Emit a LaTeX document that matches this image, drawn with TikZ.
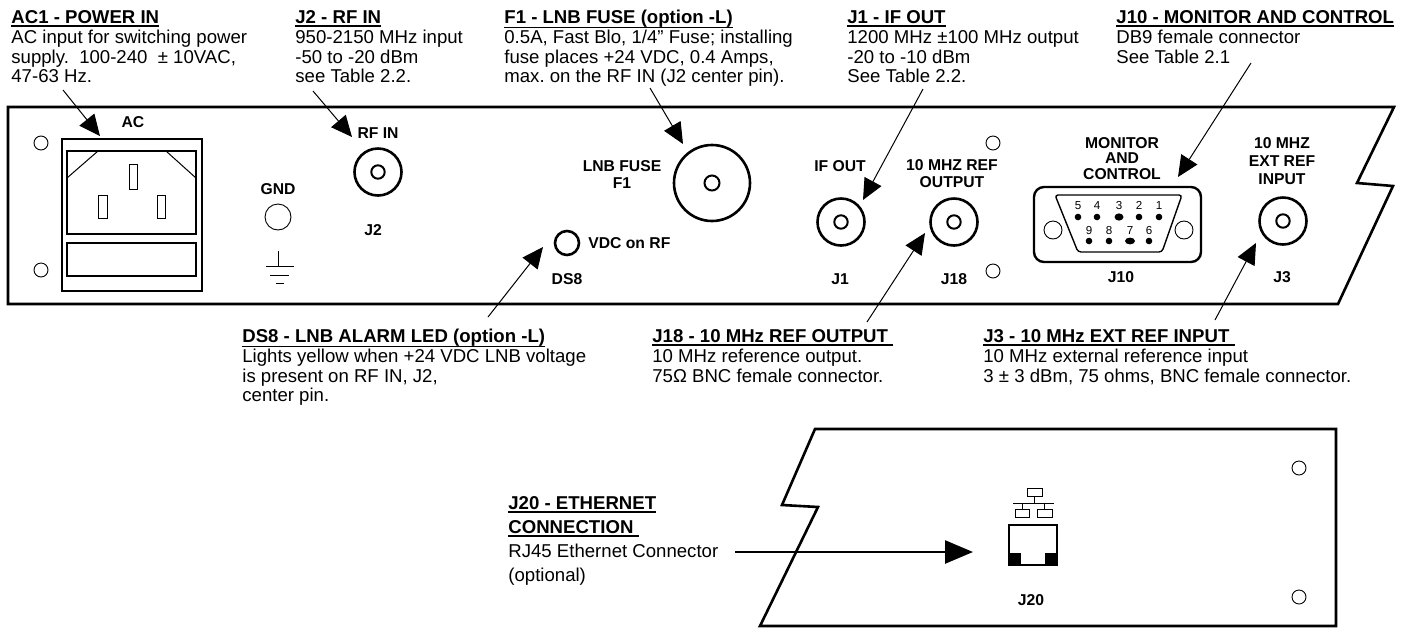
\documentclass[tikz,border=0pt]{standalone}
\usepackage{fontspec}
\setmainfont{Liberation Sans}
\usetikzlibrary{arrows.meta}
\frenchspacing
\newcommand{\txtsize}{\fontsize{9.3}{9.85}\selectfont}
\newcommand{\ethsize}{\fontsize{9.3}{12}\selectfont}
\newcommand{\lblsize}{\fontsize{7.85}{8.5}\selectfont}
\newcommand{\pinsize}{\fontsize{5.8}{6}\selectfont}
\newcommand{\titleul}[2][-1.5pt]{\sbox0{\bfseries #2}\rlap{\rule[#1]{\wd0}{0.65pt}}\usebox0}
\newcommand{\lblock}[1]{\begin{tabular}[t]{@{}l@{}}#1\end{tabular}}
\newcommand{\cblock}[1]{\begin{tabular}[t]{@{}c@{}}#1\end{tabular}}
\tikzset{
  desc/.style={anchor=base west, inner sep=0pt, font=\txtsize},
  lbl/.style={anchor=base, inner sep=0pt, font=\lblsize\bfseries},
  pinno/.style={anchor=base, inner sep=0pt, font=\pinsize},
  callout/.style={line width=0.5pt, -{Triangle[length=10.5pt,width=9.5pt]}},
  bigcallout/.style={line width=1.3pt, -{Triangle[length=14pt,width=11.5pt]}},
  panel/.style={line width=1.3pt, line join=miter},
  hole/.style={line width=0.45pt},
  jack/.style={line width=1.3pt},
  jackin/.style={line width=1pt},
  thin/.style={line width=0.6pt}
}
\begin{document}
\begin{tikzpicture}[x=0.5pt,y=-0.5pt]
\useasboundingbox (0,0) rectangle (1410,628);

% ---------- top panel ----------
\draw[panel] (8,107) -- (1394,107) -- (1357,183) -- (1393,186) -- (1338,304) -- (8,304) -- cycle;
\foreach \p in {(41,143),(41,270),(993,143),(993,271)} \draw[hole] \p circle[radius=7];

% AC inlet
\draw[line width=0.7pt] (62,139) rectangle (202,291);
\draw[thin] (67,151) rectangle (196,234);
\draw[line width=0.5pt] (67,178) -- (98,151) (166,151) -- (196,178);
\draw[line width=0.5pt] (129,164) rectangle (137,189) (98,195) rectangle (107,218) (157,195) rectangle (165,218);
\draw[thin] (67,243) rectangle (196,276);

% GND
\draw[hole] (278,217) circle[radius=13];
\draw[line width=0.5pt] (278,251) -- (278,266) (266,266) -- (294,266) (270,275) -- (289,275) (276,283) -- (284,283);

% jacks
\draw[jack] (378,172) circle[radius=23.5];
\draw[jackin] (378,172) circle[radius=6.7];
\draw[jack] (712,183) circle[radius=38];
\draw[jackin] (712,183) circle[radius=7.5];
\draw[jack] (567,243) circle[radius=12];
\draw[jack] (841,222) circle[radius=23.5];
\draw[jackin] (841,222) circle[radius=6.7];
\draw[jack] (954,222) circle[radius=23.5];
\draw[jackin] (954,222) circle[radius=6.7];
\draw[jack] (1283,221) circle[radius=23.5];
\draw[jackin] (1283,221) circle[radius=6.7];

% DB9
\draw[line width=1.2pt, rounded corners=5pt] (1034,187) rectangle (1201,262);
\draw[line width=0.7pt, rounded corners=1.5pt] (1055,195) -- (1182,195) -- (1162,252) -- (1078,252) -- cycle;
\draw[hole] (1053,230) circle[radius=9];
\draw[hole] (1184,230) circle[radius=9];
\foreach \x in {1078,1097,1139,1159} \fill (\x,217) circle[radius=3.3];
\fill (1119,217) ellipse[x radius=4.5, y radius=3.6];
\foreach \x in {1089,1109,1149} \fill (\x,241) circle[radius=3.3];
\fill (1130,241) ellipse[x radius=5, y radius=3.4];
\node[pinno] (p5) at (1078,209) {5};
\node[pinno] (p4) at (1097,209) {4};
\node[pinno] (p3) at (1119,209) {3};
\node[pinno] (p2) at (1139,209) {2};
\node[pinno] (p1) at (1159,209) {1};
\node[pinno] (p9) at (1089,234) {9};
\node[pinno] (p8) at (1109,234) {8};
\node[pinno] (p7) at (1130,234) {7};
\node[pinno] (p6) at (1149,234) {6};

% panel labels
\node[lbl] (lac) at (133,127.6) {AC};
\node[lbl] (lgnd) at (278,194.6) {GND};
\node[lbl] (lrfin) at (378,138.6) {RF IN};
\node[lbl] (lj2) at (373,235.6) {J2};
\node[lbl] (lfuse) at (622,171.6) {\cblock{LNB FUSE\\F1}};
\node[lbl, anchor=base west] (lvdc) at (588,248.6) {VDC on RF};
\node[lbl] (lds8) at (567,284.6) {DS8};
\node[lbl] (lifout) at (840,171.6) {IF OUT};
\node[lbl] (lj1) at (840,284.6) {J1};
\node[lbl] (lref) at (952,170.6) {\cblock{10 MHZ REF\\OUTPUT}};
\node[lbl] (lj18) at (954,284.6) {J18};
\node[lbl, font=\fontsize{7.85}{7.5}\selectfont\bfseries] (lmon) at (1122,148.6) {\cblock{MONITOR\\AND\\CONTROL}};
\node[lbl] (lj10) at (1121,282.6) {J10};
\node[lbl, font=\fontsize{7.85}{9}\selectfont\bfseries] (lext) at (1282,148.6) {\cblock{10 MHZ\\EXT REF\\INPUT}};
\node[lbl] (lj3) at (1282,282.6) {J3};

% ---------- bottom panel ----------
\draw[panel] (815,429) -- (1336,429) -- (1336,626) -- (760,626) -- (818,507) -- (782,505) -- cycle;
\draw[hole] (1299,468) circle[radius=7];
\draw[hole] (1299,597) circle[radius=7];
% ethernet icon
\draw[line width=0.5pt] (1027,488) rectangle (1042,496);
\draw[line width=0.5pt] (1034.5,496) -- (1034.5,503) (1013,503) -- (1054,503) (1022,503) -- (1022,509) (1044.5,503) -- (1044.5,509);
\draw[line width=0.5pt] (1015,509) rectangle (1029,517) (1037,509) rectangle (1052,517);
% RJ45
\draw[line width=0.6pt] (1009,525) rectangle (1057,565);
\fill (1009,553) rectangle (1021,565);
\fill (1045,553) rectangle (1057,565);
\node[lbl] (lj20) at (1031,605.6) {J20};

% ---------- descriptions ----------
\node[desc] (tac1) at (11,23.7) {\lblock{\titleul{AC1 - POWER IN}\\AC input for switching power\\supply.\ \ 100-240\ \ ± 10VAC,\\47-63 Hz.}};
\node[desc] (tj2) at (295,23.7) {\lblock{\titleul{J2 - RF IN}\\950-2150 MHz input\\-50 to -20 dBm\\see Table 2.2.}};
\node[desc] (tf1) at (504,23.7) {\lblock{\titleul[-2.3pt]{F1 - LNB FUSE (option -L)}\\0.5A, Fast Blo, 1/4” Fuse; installing\\fuse places +24 VDC, 0.4 Amps,\\max. on the RF IN (J2 center pin).}};
\node[desc] (tj1) at (847,23.7) {\lblock{\titleul{J1 - IF OUT}\\1200 MHz ±100 MHz output\\-20 to -10 dBm\\See Table 2.2.}};
\node[desc] (tj10) at (1116,23.7) {\lblock{\titleul{J10 - MONITOR AND CONTROL}\\DB9 female connector\\See Table 2.1}};
\node[desc] (tds8) at (242,342.7) {\lblock{\titleul[-2.3pt]{DS8 - LNB ALARM LED (option -L)}\\Lights yellow when +24 VDC LNB voltage\\is present on RF IN, J2,\\center pin.}};
\node[desc] (tj18) at (652,342.7) {\lblock{\titleul{J18 - 10 MHz REF OUTPUT\ }\\10 MHz reference output.\\75Ω BNC female connector.}};
\node[desc] (tj3) at (983,342.7) {\lblock{\titleul{J3 - 10 MHz EXT REF INPUT\ }\\10 MHz external reference input\\3 ± 3 dBm, 75 ohms, BNC female connector.}};
\node[desc, font=\ethsize] (tj20) at (508,509.5) {\lblock{\titleul{J20 - ETHERNET}\\\titleul{CONNECTION\ }\\RJ45 Ethernet Connector\\(optional)}};

% ---------- callouts ----------
\coordinate (ac1s) at (63,90);   \coordinate (ac1e) at (100,136);
\coordinate (j2s) at (313,91);   \coordinate (j2e) at (352,137);
\coordinate (f1s) at (650,88);   \coordinate (f1e) at (683,144);
\coordinate (j1s) at (923,89);   \coordinate (j1e) at (863,200);
\coordinate (j10s) at (1251,63); \coordinate (j10e) at (1178,177);
\coordinate (ds8s) at (488,317); \coordinate (ds8e) at (543,247);
\coordinate (j18s) at (867,322); \coordinate (j18e) at (925,233);
\coordinate (j3s) at (1215,320); \coordinate (j3e) at (1256,243);
\coordinate (j20s) at (735,552); \coordinate (j20e) at (973,552);
\draw[callout] (ac1s) -- (ac1e);
\draw[callout] (j2s) -- (j2e);
\draw[callout] (f1s) -- (f1e);
\draw[callout] (j1s) -- (j1e);
\draw[callout] (j10s) -- (j10e);
\draw[callout] (ds8s) -- (ds8e);
\draw[callout] (j18s) -- (j18e);
\draw[callout] (j3s) -- (j3e);
\draw[bigcallout] (j20s) -- (j20e);
\end{tikzpicture}
\end{document}
